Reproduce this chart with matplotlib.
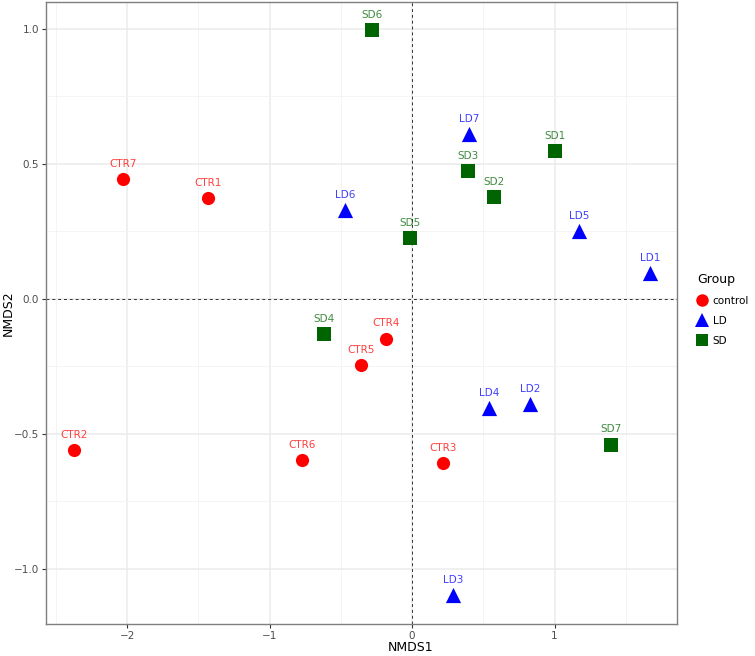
import numpy as np
import matplotlib
matplotlib.use("Agg")
import matplotlib.pyplot as plt
from matplotlib.lines import Line2D

# NMDS scores
ctr_names = ['CTR1', 'CTR2', 'CTR3', 'CTR4', 'CTR5', 'CTR6', 'CTR7']
ctr_x = [-1.43, -2.37, 0.22, -0.18, -0.36, -0.77, -2.03]
ctr_y = [0.374, -0.562, -0.61, -0.147, -0.246, -0.596, 0.444]

ld_names = ['LD1', 'LD2', 'LD3', 'LD4', 'LD5', 'LD6', 'LD7']
ld_x = [1.67, 0.83, 0.29, 0.54, 1.17, -0.47, 0.40]
ld_y = [0.095, -0.39, -1.098, -0.405, 0.251, 0.33, 0.61]

sd_names = ['SD1', 'SD2', 'SD3', 'SD4', 'SD5', 'SD6', 'SD7']
sd_x = [1.00, 0.577, 0.394, -0.62, -0.012, -0.28, 1.40]
sd_y = [0.548, 0.377, 0.474, -0.13, 0.226, 0.996, -0.54]

groups = ['control', 'LD', 'SD']
colors = {'control': '#FF0000', 'LD': '#0000FF', 'SD': '#006400'}
markers = {'control': 'o', 'LD': '^', 'SD': 's'}
sizes = {'control': 90, 'LD': 120, 'SD': 90}

data = {
    'control': (ctr_x, ctr_y, ctr_names),
    'LD': (ld_x, ld_y, ld_names),
    'SD': (sd_x, sd_y, sd_names),
}

fig = plt.figure(figsize=(7.55, 6.56), dpi=100)
ax = fig.add_axes([46 / 755, 1 - 624 / 656, (677 - 46) / 755, (624 - 2) / 656])

# theme_bw style grid
ax.set_xlim(-2.57, 1.86)
ax.set_ylim(-1.205, 1.1)
ax.set_xticks([-2, -1, 0, 1])
ax.set_yticks([-1.0, -0.5, 0.0, 0.5, 1.0])
ax.set_xticks(np.arange(-2.5, 2.0, 1.0), minor=True)
ax.set_yticks([-0.75, -0.25, 0.25, 0.75], minor=True)
ax.grid(which='major', color='#EBEBEB', linewidth=1.1)
ax.grid(which='minor', color='#F3F3F3', linewidth=0.6)
ax.set_axisbelow(True)
ax.set_yticklabels(['\u22121.0', '\u22120.5', '0.0', '0.5', '1.0'])
ax.set_xticklabels(['\u22122', '\u22121', '0', '1'])
ax.tick_params(which='major', length=3, width=0.8, color='#333333',
               labelsize=7.5, labelcolor='#4D4D4D', pad=2)
ax.tick_params(which='minor', length=0)
for sp in ax.spines.values():
    sp.set_color('#7F7F7F')
    sp.set_linewidth(1.0)

ax.axhline(0, color='#333333', linestyle=(0, (3, 3)), linewidth=0.7, zorder=1)
ax.axvline(0, color='#333333', linestyle=(0, (3, 3)), linewidth=0.7, zorder=1)

for g in groups:
    xs, ys, names = data[g]
    ax.scatter(xs, ys, s=sizes[g], marker=markers[g], color=colors[g],
               linewidths=0, zorder=3)
    for x, y, n in zip(xs, ys, names):
        ax.text(x, y + 0.056, n, color=colors[g], alpha=0.75, fontsize=7.5,
                ha='center', va='center', zorder=4)

ax.set_xlabel('NMDS1', fontsize=9)
ax.set_ylabel('NMDS2', fontsize=9)
ax.xaxis.set_label_coords(0.578, -0.038)
ax.yaxis.set_label_coords(-0.06, 0.5)
ax.xaxis.label.set_va('center')
ax.yaxis.label.set_va('center')

handles = [Line2D([], [], linestyle='none', marker=markers[g], color=colors[g],
                  markersize=10 if g == 'LD' else 9, markeredgewidth=0)
           for g in groups]
leg = fig.legend(handles, groups, title='Group', loc='upper left',
                 bbox_to_anchor=(697 / 755, 1 - 273 / 656), frameon=False,
                 fontsize=7.5, title_fontsize=9, handlelength=1.0,
                 handletextpad=0.5, labelspacing=0.95, borderaxespad=0,
                 borderpad=0)
leg._legend_box.align = 'left'

fig.savefig('out.png', dpi=100)
